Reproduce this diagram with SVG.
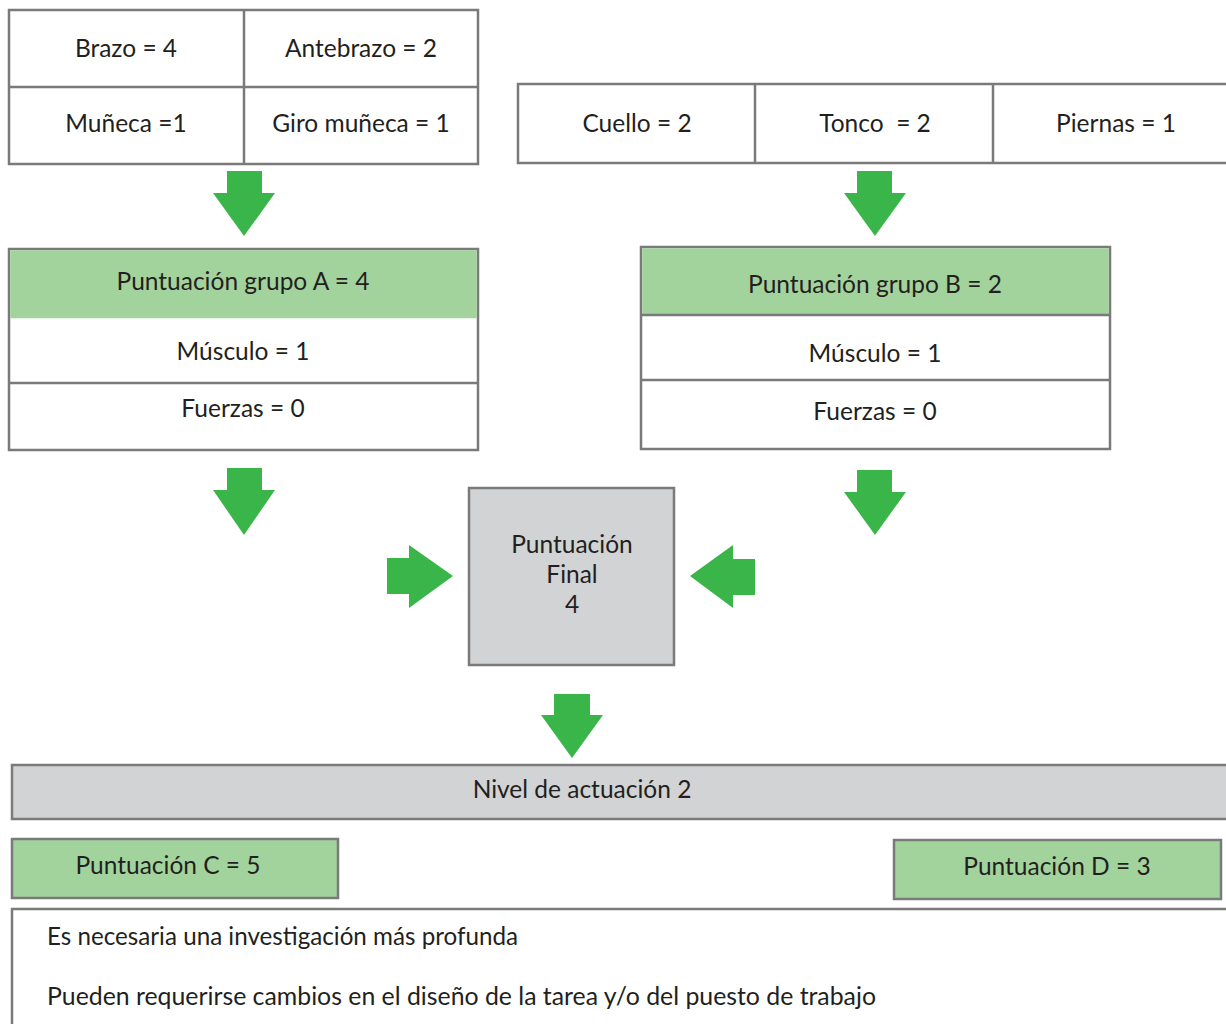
<svg xmlns="http://www.w3.org/2000/svg" width="1226" height="1024" viewBox="0 0 1226 1024">
<style>
text{font-family:Lato,"Open Sans","Liberation Sans",sans-serif;font-size:24.5px;fill:#231f20}
.c{text-anchor:middle}
.box{stroke:#7a7a7a;stroke-width:2.5}
.w{fill:#ffffff}
.g{fill:#a3d39c}
.gr{fill:#d1d3d4}
.ln{stroke:#7a7a7a;stroke-width:2.5;fill:none}
.arr{fill:#3ab54a}
</style>
<rect width="1226" height="1024" fill="#ffffff"/>
<g id="tableA">
<rect class="box w" x="9" y="10" width="469" height="154"/>
<line class="ln" x1="244" y1="10" x2="244" y2="164"/>
<line class="ln" x1="9" y1="87" x2="478" y2="87"/>
<text class="c" x="126" y="57">Brazo = 4</text>
<text class="c" x="361" y="57">Antebrazo = 2</text>
<text class="c" x="126" y="132">Muñeca =1</text>
<text class="c" x="361" y="132">Giro muñeca = 1</text>
</g>
<g id="tableB">
<rect class="box w" x="518" y="84" width="720" height="79"/>
<line class="ln" x1="755" y1="84" x2="755" y2="163"/>
<line class="ln" x1="993" y1="84" x2="993" y2="163"/>
<text class="c" x="637" y="132">Cuello = 2</text>
<text class="c" x="875" y="132">Tonco&#160; = 2</text>
<text class="c" x="1116" y="132">Piernas = 1</text>
</g>
<g id="grupoA">
<rect class="box w" x="9" y="249" width="469" height="201"/>
<rect class="g" x="10.25" y="250.25" width="466.5" height="68"/>
<line class="ln" x1="9" y1="383" x2="478" y2="383"/>
<text class="c" x="243" y="290">Puntuación grupo A = 4</text>
<text class="c" x="243" y="360">Músculo = 1</text>
<text class="c" x="243" y="417">Fuerzas = 0</text>
</g>
<g id="grupoB">
<rect class="box w" x="641" y="247" width="469" height="202"/>
<rect class="g" x="642.25" y="248.25" width="466.5" height="67"/>
<line class="ln" x1="641" y1="315" x2="1110" y2="315"/>
<line class="ln" x1="641" y1="380" x2="1110" y2="380"/>
<text class="c" x="875" y="293">Puntuación grupo B = 2</text>
<text class="c" x="875" y="362">Músculo = 1</text>
<text class="c" x="875" y="420">Fuerzas = 0</text>
</g>
<g id="final">
<rect class="box gr" x="469" y="488" width="205" height="177"/>
<text class="c" x="572" y="553">Puntuación</text>
<text class="c" x="572" y="583">Final</text>
<text class="c" x="572" y="613">4</text>
</g>
<g id="nivel">
<rect class="box gr" x="12" y="765" width="1230" height="54"/>
<text class="c" x="582" y="798">Nivel de actuación 2</text>
</g>
<g id="puntC">
<rect class="box g" x="12" y="839" width="326" height="59"/>
<text class="c" x="168" y="874">Puntuación C = 5</text>
</g>
<g id="puntD">
<rect class="box g" x="894" y="840" width="327" height="59"/>
<text class="c" x="1057" y="875">Puntuación D = 3</text>
</g>
<g id="nota">
<rect class="box w" x="12" y="909" width="1230" height="130"/>
<text x="47" y="945" textLength="471" lengthAdjust="spacingAndGlyphs">Es necesaria una investigación más profunda</text>
<text x="47" y="1005" textLength="829" lengthAdjust="spacingAndGlyphs">Pueden requerirse cambios en el diseño de la tarea y/o del puesto de trabajo</text>
</g>
<g id="connectors">
<polygon class="arr" points="227,171 262,171 262,193 275,193 244,236 213,193 227,193"/>
<polygon class="arr" points="857,171 892,171 892,193 906,193 875,236 844,193 857,193"/>
<polygon class="arr" points="227,468 262,468 262,490 275,490 244,535 213,490 227,490"/>
<polygon class="arr" points="857,470 892,470 892,492 906,492 875,535 844,492 857,492"/>
<polygon class="arr" points="387,558 409,558 409,545 453,576 409,608 409,594 387,594"/>
<polygon class="arr" points="755,559 733,559 733,545 690,576 733,608 733,595 755,595"/>
<polygon class="arr" points="554,694 590,694 590,715 603,715 572,758 541,715 554,715"/>
</g>
</svg>
